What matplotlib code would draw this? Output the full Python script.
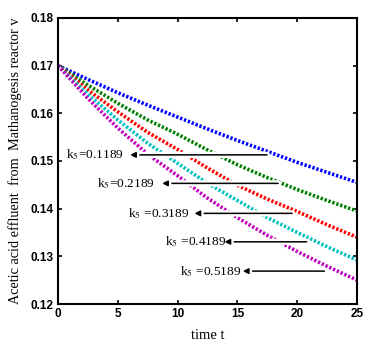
import matplotlib
matplotlib.use('Agg')
import matplotlib.pyplot as plt
import matplotlib.patheffects as pe

# values
t = [0, 2.5, 5, 7.5, 10, 12.5, 15, 17.5, 20, 22.5, 25]
v_blue = [0.1700, 0.1671, 0.1643, 0.1617, 0.1592, 0.1567, 0.1543, 0.1520, 0.1497, 0.1476, 0.1455]
v_green = [0.1700, 0.1659, 0.1621, 0.1586, 0.1556, 0.1523, 0.1492, 0.1465, 0.1440, 0.1417, 0.1395]
v_red = [0.1700, 0.1649, 0.1603, 0.1560, 0.1524, 0.1485, 0.1449, 0.1420, 0.1394, 0.1366, 0.1340]
v_cyan = [0.1700, 0.1640, 0.1586, 0.1537, 0.1495, 0.1453, 0.1417, 0.1381, 0.1350, 0.1320, 0.1292]
v_magenta = [0.1700, 0.1631, 0.1569, 0.1514, 0.1469, 0.1422, 0.1381, 0.1344, 0.1310, 0.1279, 0.1250]

series = [v_blue, v_green, v_red, v_cyan, v_magenta]
colors = ['#0000ff', '#008000', '#ff0000', '#00c0c0', '#c000c0']

# annotation labels: text, text start x, y, arrow head x, arrow tail x
labels = ['k$_5$=0.1189', 'k$_5$=0.2189', 'k$_5$ =0.3189', 'k$_5$ =0.4189', 'k$_5$ =0.5189']
label_x = [0.67, 3.26, 5.85, 8.95, 10.2]
label_y = [0.15128, 0.14530, 0.13901, 0.13304, 0.12690]
head_x = [6.02, 8.70, 11.40, 13.91, 15.44]
tail_x = [17.47, 18.39, 19.57, 20.79, 22.27]

plt.rcParams['mathtext.fontset'] = 'stix'

fig = plt.figure(figsize=(3.72, 3.43), dpi=100)
ax = fig.add_axes([0.156, 0.1137, 0.804, 0.834])

for vals, c in zip(series, colors):
    ax.plot(t, vals, color=c, linewidth=2.6, linestyle=(0, (0.65, 0.5)),
            dash_capstyle='butt')

for txt, lx, ly, hx, tx in zip(labels, label_x, label_y, head_x, tail_x):
    ann = ax.annotate('', xy=(hx, ly), xytext=(tx, ly),
                      arrowprops=dict(arrowstyle='-|>', color='black', lw=1.1,
                                      mutation_scale=8, shrinkA=0, shrinkB=0))
    ann.arrow_patch.set_path_effects([pe.withStroke(linewidth=4.5, foreground='white')])
    ax.text(lx, ly, txt, fontsize=9.6, family='Liberation Serif',
            va='center', ha='left')

ax.set_xlim(0, 25)
ax.set_ylim(0.12, 0.18)
ax.set_xticks([0, 5, 10, 15, 20, 25])
ax.set_yticks([0.12, 0.13, 0.14, 0.15, 0.16, 0.17, 0.18])
ax.set_yticklabels(['0.12', '0.13', '0.14', '0.15', '0.16', '0.17', '0.18'])
ax.tick_params(direction='in', top=True, right=True, length=3, width=1.2,
               labelsize=8.5, pad=3)
for lab in ax.get_xticklabels() + ax.get_yticklabels():
    lab.set_fontweight('bold')
    lab.set_family('Liberation Sans')
for s in ax.spines.values():
    s.set_linewidth(1.5)

ax.set_xlabel('time t', fontsize=10.5, family='Liberation Serif', labelpad=6)
ax.set_ylabel('Acetic acid effluent  from  Mathanogesis reactor v', fontsize=10.3,
              family='Liberation Serif', labelpad=6)

fig.savefig('out.png', dpi=100)
